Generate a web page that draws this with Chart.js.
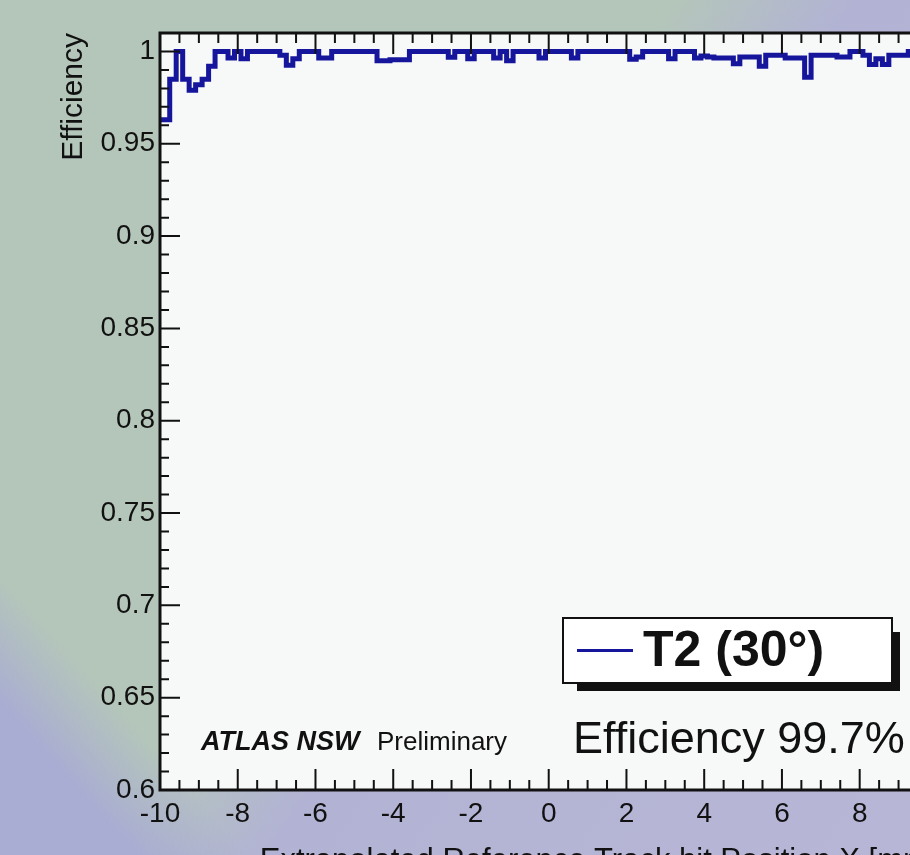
<!DOCTYPE html>
<html>
<head>
<meta charset="utf-8">
<script src="https://cdn.jsdelivr.net/npm/chart.js@4.4.1/dist/chart.umd.min.js"></script>
<style>
  html, body { margin: 0; padding: 0; width: 910px; height: 855px; overflow: hidden; }
  body {
    background:
      linear-gradient(228deg, rgba(169,172,211,0) 85%, rgba(169,172,211,1) 92%),
      linear-gradient(124.6deg, rgba(178,179,212,0) 45%, rgba(178,179,212,1) 57%, rgba(184,182,215,1) 100%),
      #b4c6ba;
  }
  #wrap { position: absolute; left: 0; top: 0; width: 960px; height: 880px; }
</style>
</head>
<body>
<div id="wrap"><canvas id="effChart" width="960" height="880"></canvas></div>
<script>
// axis range and histogram binning (bins of 1/6, centred on -10 + k/6)
const xMin = -10, xMax = 10, binWidth = 1 / 6;
const yMin = 0.6, yMax = 1.01;
const binStart = xMin - binWidth / 2;

// efficiency per bin
const effValues = [
    0.963, 0.963, 0.985, 1.0, 0.985, 0.979, 0.982, 0.985, 0.992, 1.0,
    1.0, 0.9965, 1.0, 0.996, 1.0, 1.0, 1.0, 1.0, 1.0, 0.998,
    0.9925, 0.996, 1.0, 1.0, 1.0, 0.9965, 0.9965, 1.0, 1.0, 1.0,
    1.0, 1.0, 1.0, 1.0, 0.995, 0.995, 0.9955, 0.9955, 0.9955, 1.0,
    1.0, 1.0, 1.0, 1.0, 1.0, 0.9968, 1.0, 1.0, 0.996, 1.0,
    1.0, 1.0, 0.9965, 1.0, 0.995, 1.0, 1.0, 1.0, 1.0, 0.9965,
    1.0, 1.0, 1.0, 1.0, 0.9965, 1.0, 1.0, 1.0, 1.0, 1.0,
    1.0, 1.0, 1.0, 0.9958, 0.997, 1.0, 1.0, 1.0, 1.0, 0.996,
    1.0, 1.0, 1.0, 0.9965, 0.9975, 0.997, 0.9965, 0.9965, 0.9965, 0.9933,
    0.997, 0.997, 0.997, 0.992, 0.998, 0.998, 0.998, 0.9965, 0.9965, 0.9965,
    0.986, 0.998, 0.998, 0.998, 0.998, 0.997, 0.997, 1.0, 1.0, 0.998,
    0.993, 0.996, 0.993, 0.998, 0.998, 0.998, 1.0, 0.998, 1.0, 0.998,
    1.0
];

const xTickValues = [-10, -8, -6, -4, -2, 0, 2, 4, 6, 8, 10];
const yTickValues = [0.6, 0.65, 0.7, 0.75, 0.8, 0.85, 0.9, 0.95, 1];
const yTickLabels = ['0.6', '0.65', '0.7', '0.75', '0.8', '0.85', '0.9', '0.95', '1'];

const seriesLabel = 'T2 (30°)';
const yTitle      = 'Efficiency';
const xTitle      = 'Extrapolated Reference Track hit Position X [mm]';
const atlasLabel  = 'ATLAS NSW';
const prelimLabel = 'Preliminary';
const effLabel    = 'Efficiency 99.7%';

const FONT      = '"Liberation Sans", Arial, Helvetica, sans-serif';
const INK       = '#111';
const LINE_BLUE = 'rgb(22,22,156)';

// step points at bin left edges, plus closing point at the last right edge
const histPoints = effValues.map((v, i) => ({ x: binStart + i * binWidth, y: v }));
histPoints.push({ x: binStart + effValues.length * binWidth, y: effValues[effValues.length - 1] });

const rootStyle = {
    id: 'rootStyle',
    beforeDatasetsDraw(chart) {
        const { ctx, chartArea: a } = chart;
        ctx.save();
        ctx.fillStyle = '#f7f8f8';
        ctx.fillRect(a.left, a.top, a.right - a.left, a.bottom - a.top);
        ctx.restore();
    },
    afterDatasetsDraw(chart) {
        const { ctx, chartArea: a, scales: { x, y } } = chart;
        ctx.save();
        ctx.strokeStyle = INK;
        ctx.lineWidth = 2;
        ctx.beginPath();
        // x ticks (bottom + top), minor every 0.5
        for (let k = 0; k <= 40; k++) {
            const px = x.getPixelForValue(xMin + k * 0.5);
            const len = k % 4 === 0 ? 21 : 10;
            ctx.moveTo(px, a.bottom); ctx.lineTo(px, a.bottom - len);
            ctx.moveTo(px, a.top);    ctx.lineTo(px, a.top + len);
        }
        // y ticks (left + right), minor every 0.01
        for (let k = 0; k <= 40; k++) {
            const py = y.getPixelForValue(yMin + k * 0.01);
            const len = k % 5 === 0 ? 20 : 9;
            ctx.moveTo(a.left, py);  ctx.lineTo(a.left + len, py);
            ctx.moveTo(a.right, py); ctx.lineTo(a.right - len, py);
        }
        ctx.stroke();
        ctx.lineWidth = 3;
        ctx.strokeRect(a.left, a.top, a.right - a.left, a.bottom - a.top);
        ctx.restore();
    },
    afterDraw(chart) {
        const { ctx } = chart;
        ctx.save();
        ctx.fillStyle = INK;
        ctx.textBaseline = 'alphabetic';
        ctx.textAlign = 'left';

        ctx.font = 'italic bold 27px ' + FONT;
        ctx.fillText(atlasLabel, 201, 750);
        ctx.font = '26px ' + FONT;
        ctx.fillText(prelimLabel, 377, 750);
        ctx.font = '45px ' + FONT;
        ctx.fillText(effLabel, 573, 753);

        // legend box with ROOT-style shadow
        const lg = { x: 563, y: 618, w: 329, h: 65 };
        ctx.fillRect(lg.x + 14, lg.y + lg.h, lg.w - 6, 8);
        ctx.fillRect(lg.x + lg.w, lg.y + 14, 8, lg.h - 6);
        ctx.fillStyle = '#fff';
        ctx.fillRect(lg.x, lg.y, lg.w, lg.h);
        ctx.strokeStyle = INK;
        ctx.lineWidth = 2;
        ctx.strokeRect(lg.x, lg.y, lg.w, lg.h);
        ctx.strokeStyle = LINE_BLUE;
        ctx.lineWidth = 3;
        ctx.beginPath();
        ctx.moveTo(577, 650.5); ctx.lineTo(633, 650.5);
        ctx.stroke();
        ctx.fillStyle = INK;
        ctx.font = 'bold 50px ' + FONT;
        ctx.fillText(seriesLabel, 643, 666);
        ctx.restore();
    }
};

new Chart(document.getElementById('effChart'), {
    type: 'line',
    data: {
        datasets: [{
            label: seriesLabel, data: histPoints, clip: 0,
            borderColor: LINE_BLUE, borderWidth: 5, stepped: 'before',
            pointRadius: 0, fill: false, borderJoinStyle: 'miter', borderCapStyle: 'butt'
        }]
    },
    options: {
        responsive: false, animation: false, devicePixelRatio: 1,
        layout: { padding: { top: 33, right: 16.6, bottom: 0, left: 0 } },
        plugins: { legend: { display: false }, tooltip: { enabled: false } },
        scales: {
            x: {
                type: 'linear', min: xMin, max: xMax,
                afterBuildTicks: s => { s.ticks = xTickValues.map(v => ({ value: v })); },
                afterFit: s => { s.height = 90; },
                grid: { display: false, drawTicks: false }, border: { display: false },
                ticks: { color: INK, font: { family: FONT, size: 28 }, padding: 7, maxRotation: 0, autoSkip: false, callback: v => String(v) },
                title: { display: true, text: xTitle, align: 'end', color: INK, font: { family: FONT, size: 31 }, padding: { top: 0, bottom: 0 } }
            },
            y: {
                type: 'linear', min: yMin, max: yMax,
                afterBuildTicks: s => { s.ticks = yTickValues.map(v => ({ value: v })); },
                afterFit: s => { s.width = 160; },
                grid: { display: false, drawTicks: false }, border: { display: false },
                ticks: { color: INK, font: { family: FONT, size: 28 }, padding: 5, callback: (v, i) => yTickLabels[i] },
                title: { display: true, text: yTitle, align: 'end', color: INK, font: { family: FONT, size: 30 }, padding: { top: 56, bottom: 0 } }
            }
        }
    },
    plugins: [rootStyle]
});
</script>
</body>
</html>
